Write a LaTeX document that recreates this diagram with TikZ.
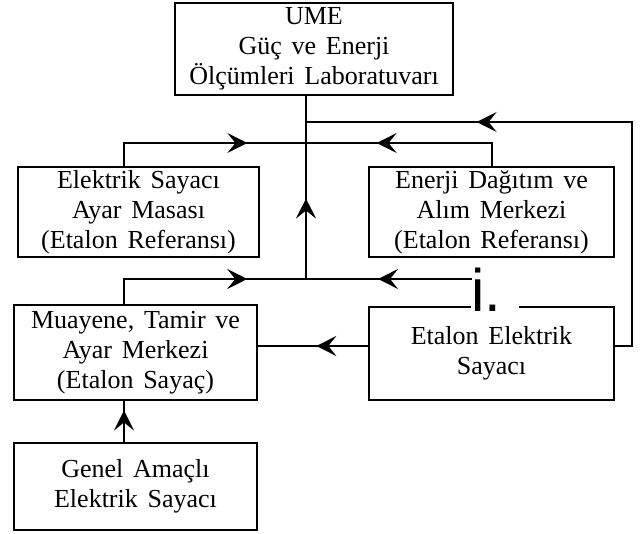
\documentclass[tikz,border=0pt]{standalone}
\usepackage{fontspec}
\setmainfont{Liberation Serif}[WordSpace=1.5]
\newfontfamily\isans{Liberation Sans}
\usetikzlibrary{arrows.meta,decorations.markings}

\begin{document}
\begin{tikzpicture}[x=0.5pt, y=-0.5pt,
  kutu/.style={draw, line width=1.1pt, align=center, inner sep=0pt, font=\fontsize{13}{15}\selectfont},
  hat/.style={line width=1.1pt},
  okat/.style={postaction={decorate}, decoration={markings, mark=at position #1 with {\arrow{Stealth[length=10pt,width=10pt,inset=4pt]}}}}]

  %%%%%%%%%% Cerceve %%%%%%%%%%
  \useasboundingbox (0,0) rectangle (643,534);

  %%%%%%%%%% Kutular %%%%%%%%%%
  \node[kutu, minimum width=139pt, minimum height=46pt] (ume) at (314,49) {UME\\ Güç ve Enerji\\ Ölçümleri Laboratuvarı};
  \node[kutu, minimum width=120.5pt, minimum height=45pt] (ayar) at (138.5,212) {Elektrik Sayacı\\ Ayar Masası\\ (Etalon Referansı)};
  \node[kutu, minimum width=122.5pt, minimum height=45pt] (dagitim) at (491.5,212) {Enerji Dağıtım ve\\ Alım Merkezi\\ (Etalon Referansı)};
  \node[kutu, minimum width=121.5pt, minimum height=47.5pt] (muayene) at (135.5,352.5) {Muayene, Tamir ve\\ Ayar Merkezi\\ (Etalon Sayaç)};
  \node[kutu, minimum width=122.5pt, minimum height=46.5pt] (etalon) at (491.5,353.5) {Etalon Elektrik\\ Sayacı};
  \node[kutu, minimum width=121.5pt, minimum height=43.5pt] (genel) at (135.5,486.5) {Genel Amaçlı\\ Elektrik Sayacı};

  %%%%%%%%%% Noktalar %%%%%%%%%%
  \coordinate (sol) at (124,0);
  \coordinate (sagust) at (492,0);
  \coordinate (jtop) at (306,122);
  \coordinate (jmid) at (306,143);
  \coordinate (jbot) at (306,279);
  \coordinate (sag) at (632,122);
  \coordinate (seviye) at (0,346);
  \coordinate (ibas) at (472,279);

  \node[font=\isans\fontsize{30}{30}\selectfont, anchor=base west, fill=white, inner sep=0pt, text width=24pt] (kopru) at (471,312) {i.};

  %%%%%%%%%% Baglantilar %%%%%%%%%%
  \draw[hat, okat=0.44] (jbot) -- (ume.south -| jbot);
  \draw[hat, okat=0.714] (ayar.north -| sol) |- (jmid);
  \draw[hat, okat=0.662] (dagitim.north -| sagust) |- (jmid);
  \draw[hat, okat=0.716] (muayene.north -| sol) |- (jbot);
  \draw[hat, okat=0.566] (ibas) -- (jbot);
  \draw[hat, okat=0.699] (etalon.east |- seviye) -| (sag) -- (jtop);
  \draw[hat, okat=0.47] (etalon.west |- seviye) -- (muayene.east |- seviye);
  \draw[hat, okat=0.77] (genel.north -| sol) -- (muayene.south -| sol);

\end{tikzpicture}
\end{document}
